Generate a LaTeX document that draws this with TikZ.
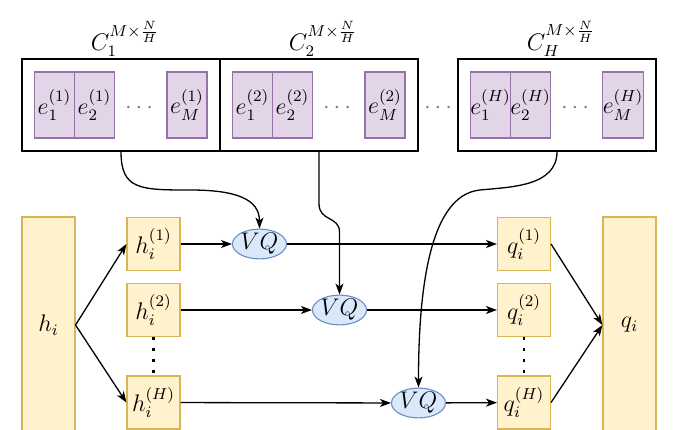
\documentclass[tikz,border=0pt]{standalone}
\usepackage{amsmath}
\usetikzlibrary{shapes.geometric, arrows.meta, positioning}
\definecolor{cbfill}{RGB}{225,213,231}
\definecolor{cbdraw}{RGB}{150,115,166}
\definecolor{featfill}{RGB}{255,242,204}
\definecolor{featdraw}{RGB}{214,182,86}
\definecolor{vqfill}{RGB}{218,232,252}
\definecolor{vqdraw}{RGB}{108,142,191}
\definecolor{dotcol}{RGB}{130,115,165}

\begin{document}
\begin{tikzpicture}[x=0.5pt, y=-0.5pt, font=\fontsize{11.5}{13}\selectfont, line width=0.65pt,
  book/.style={draw, minimum width=99pt, minimum height=46pt, inner sep=0pt},
  word/.style={draw=cbdraw, fill=cbfill, line width=0.55pt, minimum width=20pt, minimum height=33pt, inner sep=0pt},
  feat/.style={draw=featdraw, fill=featfill, line width=0.55pt, minimum width=26.5pt, minimum height=26.5pt, inner sep=0pt},
  tall/.style={feat, minimum height=108pt},
  vq/.style={ellipse, draw=vqdraw, fill=vqfill, line width=0.55pt, minimum width=27pt, minimum height=13pt, inner sep=0pt},
  arr/.style={-{Stealth[length=5.5pt, width=4pt, inset=1.5pt]}},
  vdots/.style={line width=1.4pt, dash pattern=on 1.4pt off 4.1pt}]
  \useasboundingbox (0,0) rectangle (681,429);

  % codebooks
  \foreach \k/\cx in {1/121, 2/319, H/557} {
    \node[book] (cb\k) at (\cx,105) {};
    \node (lab\k) at (\cx+4,39) {$C_{\k}^{M\times\frac{N}{H}}$};
    \node[word] (e\k a) at (\cx-66.5,105) {$e_1^{(\k)}$};
    \node[word] (e\k b) at (\cx-26.5,105) {$e_2^{(\k)}$};
    \node[text=dotcol] (d\k) at (\cx+20,108) {$\cdots$};
    \node[word] (e\k m) at (\cx+66,105) {$e_M^{(\k)}$};
  }
  \node[text=dotcol] (gap) at (440,108) {$\cdots$};

  % heads
  \node[tall] (h) at (48.5,325) {$h_i$};
  \node[feat] (h1) at (153.5,244) {$h_i^{(1)}$};
  \node[feat] (h2) at (153.5,310) {$h_i^{(2)}$};
  \node[feat] (hH) at (153.5,402.5) {$h_i^{(H)}$};
  \node[vq] (vq1) at (259.5,244) {$VQ$};
  \node[vq] (vq2) at (339.5,310) {$VQ$};
  \node[vq] (vqH) at (418.5,403) {$VQ$};
  \node[feat] (q1) at (524,244) {$q_i^{(1)}$};
  \node[feat] (q2) at (524,310) {$q_i^{(2)}$};
  \node[feat] (qH) at (524,402.5) {$q_i^{(H)}$};
  \node[tall] (q) at (629.5,325) {$q_i$};

  \draw[vdots] (h2.south) -- (hH.north);
  \draw[vdots] (q2.south) -- (qH.north);

  \draw[arr] (h.east) -- (h1.west);
  \draw[arr] (h.east) -- (hH.west);
  \draw[arr] (h1) -- (vq1);
  \draw[arr] (vq1) -- (q1);
  \draw[arr] (h2) -- (vq2);
  \draw[arr] (vq2) -- (q2);
  \draw[arr] (hH) -- (vqH);
  \draw[arr] (vqH) -- (qH);
  \draw[arr] (q1.east) -- (q.west);
  \draw[arr] (qH.east) -- (q.west);

  % codebook lookups
  \coordinate (w1) at (190,190);
  \coordinate (w2) at (339.5,232);
  \coordinate (w3) at (480,190);
  \draw[arr] (cb1.south) .. controls +(0,38) and +(-50,0) .. (w1) .. controls +(45,0) and +(0,-30) .. (vq1.north);
  \draw[arr] (cb2.south) -- ++(0,52) .. controls +(0,18) and +(0,-16) .. (w2) -- (vq2.north);
  \draw[arr] (cbH.south) .. controls +(0,35) and +(30,-3) .. (w3) .. controls +(-50,5) and +(0,-100) .. (vqH.north);
\end{tikzpicture}
\end{document}
